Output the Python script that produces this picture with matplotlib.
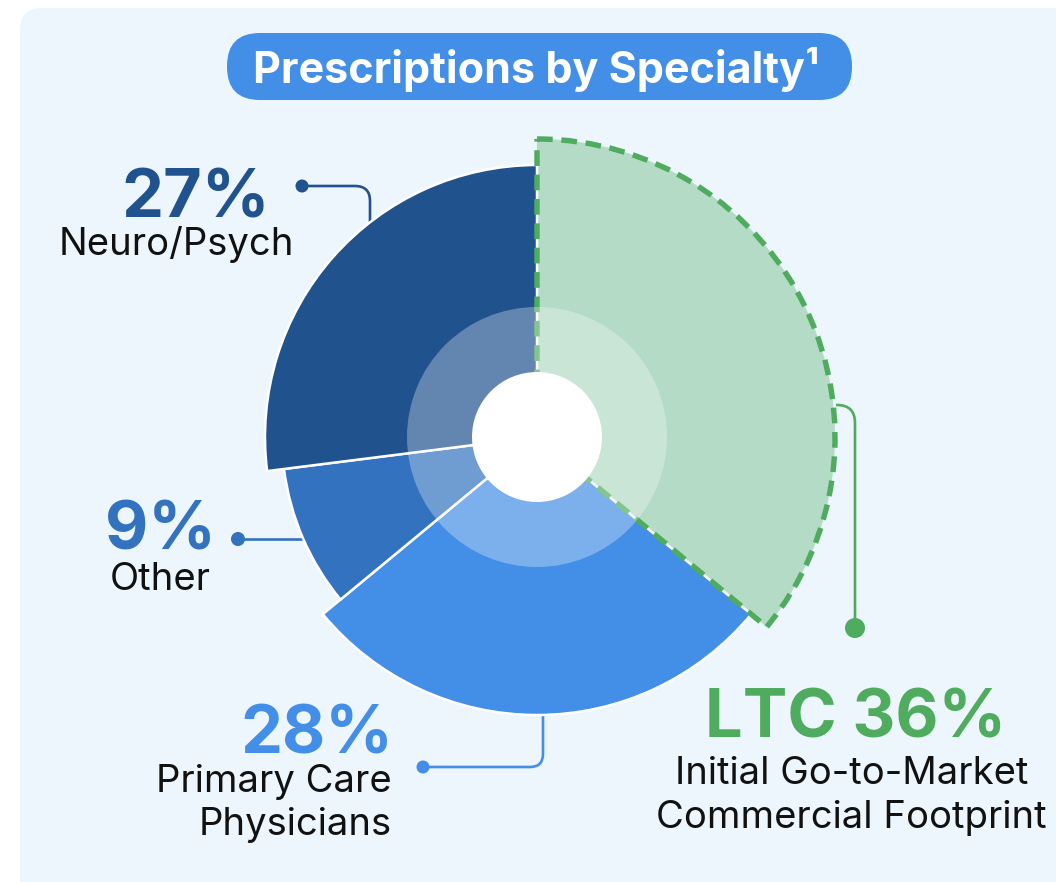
import matplotlib
matplotlib.use("Agg")
import matplotlib.pyplot as plt
from matplotlib.patches import Wedge, Circle, FancyBboxPatch, PathPatch
from matplotlib.path import Path

# data
segments = ["LTC", "Primary Care Physicians", "Other", "Neuro/Psych"]
shares = [36, 28, 9, 27]
pct_labels = ["LTC 36%", "28%", "9%", "27%"]
sub_labels = ["Initial Go-to-Market\nCommercial Footprint", "Primary Care\nPhysicians", "Other", "Neuro/Psych"]
title = "Prescriptions by Specialty\u00b9"

# styling
colors = ["#B3DBC5", "#438EE6", "#3272BE", "#20528E"]
text_colors = ["#4FAB5E", "#438EE6", "#3272BE", "#20528E"]
radii = [298, 278, 255, 272]
green = "#4FAB5E"
cx, cy = 537, 437
FONT = "Inter"

W, H = 1056, 882
fig = plt.figure(figsize=(W / 100, H / 100), dpi=100)
fig.patch.set_facecolor("white")
ax = fig.add_axes([0, 0, 1, 1])
ax.set_xlim(0, W)
ax.set_ylim(H, 0)  # y down like pixels
ax.set_aspect("equal")
ax.axis("off")

# background panel
ax.add_patch(FancyBboxPatch((20, 8), 1100, 950, boxstyle="round,pad=0,rounding_size=22",
                            fc="#EDF5FD", ec="none", zorder=0))

# wedges (y axis inverted, so angles increase clockwise on screen)
start = -90
for name, s, col, r in zip(segments, shares, colors, radii):
    end = start + s / sum(shares) * 360
    if name == "LTC":
        ax.add_patch(Wedge((cx, cy), r, start, end, fc=col, ec="none", zorder=2))
        ax.add_patch(Wedge((cx, cy), r, start, end, fc="none", ec=green, lw=3.9,
                           linestyle=(0, (2.9, 1.6)), zorder=3))
    else:
        ax.add_patch(Wedge((cx, cy), r, start, end, fc=col, ec="white", lw=1.8, zorder=2))
    start = end

# inner translucent ring and hole
ax.add_patch(Circle((cx, cy), 130, fc="white", alpha=0.3, ec="none", zorder=4))
ax.add_patch(Circle((cx, cy), 65, fc="white", ec="none", zorder=5))


def connector(pts, rad, color, dot, dot_r):
    if len(pts) == 3:
        (x0, y0), (x1, y1), (x2, y2) = pts
        sgn = lambda v: (v > 0) - (v < 0)
        a = (x1 - sgn(x1 - x0) * rad, y1 - sgn(y1 - y0) * rad)
        b = (x1 + sgn(x2 - x1) * rad, y1 + sgn(y2 - y1) * rad)
        verts = [(x0, y0), a, (x1, y1), b, (x2, y2)]
        codes = [Path.MOVETO, Path.LINETO, Path.CURVE3, Path.CURVE3, Path.LINETO]
    else:
        verts = list(pts)
        codes = [Path.MOVETO, Path.LINETO]
    ax.add_patch(PathPatch(Path(verts, codes), fc="none", ec=color, lw=1.9,
                           capstyle="butt", zorder=1))
    ax.add_patch(Circle(dot, dot_r, fc=color, ec="none", zorder=6))


connector([(836, 405), (855, 405), (855, 628)], 18, green, (855, 628), 10)
connector([(423, 767), (543, 767), (543, 712)], 13, "#438EE6", (423, 767), 6.5)
connector([(238, 539), (310, 539)], 0, "#3272BE", (238, 539), 7)
connector([(302, 186), (370, 186), (370, 225)], 15, "#20528E", (302, 186), 6.5)

# labels
num_size, lab_size = 48, 27.5
ink = "#111111"
# LTC
ax.text(856, 738, pct_labels[0], ha="center", va="baseline", fontsize=num_size,
        fontweight="bold", color=text_colors[0], family=FONT)
l1, l2 = sub_labels[0].split("\n")
ax.text(852, 784, l1, ha="center", va="baseline", fontsize=lab_size, color=ink, family=FONT)
ax.text(851, 828, l2, ha="center", va="baseline", fontsize=lab_size, color=ink, family=FONT)
# PCP
ax.text(393, 753, pct_labels[1], ha="right", va="baseline", fontsize=num_size,
        fontweight="bold", color=text_colors[1], family=FONT)
l1, l2 = sub_labels[1].split("\n")
ax.text(392, 792, l1, ha="right", va="baseline", fontsize=lab_size, color=ink, family=FONT)
ax.text(392, 835, l2, ha="right", va="baseline", fontsize=lab_size, color=ink, family=FONT)
# Other
ax.text(160, 550, pct_labels[2], ha="center", va="baseline", fontsize=num_size,
        fontweight="bold", color=text_colors[2], family=FONT)
ax.text(160, 590, sub_labels[2], ha="center", va="baseline", fontsize=lab_size,
        color=ink, family=FONT)
# Neuro
ax.text(270, 217, pct_labels[3], ha="right", va="baseline", fontsize=num_size,
        fontweight="bold", color=text_colors[3], family=FONT)
ax.text(176, 255, sub_labels[3], ha="center", va="baseline", fontsize=lab_size,
        color=ink, family=FONT)

# title pill
ax.add_patch(FancyBboxPatch((227, 33), 625, 67, boxstyle="round,pad=0,rounding_size=33",
                            fc="#438EE6", ec="none", zorder=1))
ax.text(536, 83, title, ha="center", va="baseline", fontsize=31, fontweight="bold",
        color="white", family=FONT, zorder=2)

fig.savefig("out.png", dpi=100, facecolor="white")
